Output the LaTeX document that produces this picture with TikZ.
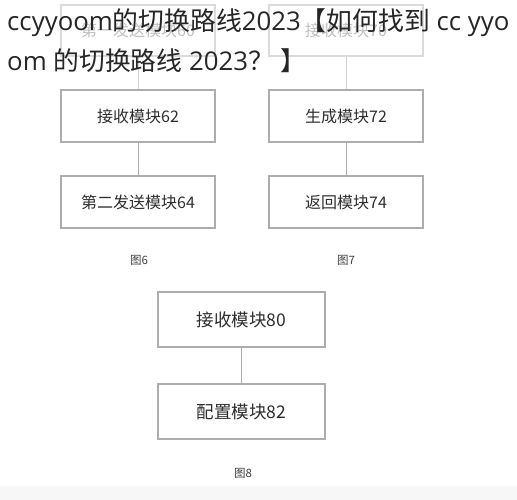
\documentclass[tikz,border=0pt]{standalone}
\usepackage{fontspec}
\newfontfamily\cjk{Noto Sans CJK SC}
\newfontfamily\osf{Open Sans}
\begin{document}
\begin{tikzpicture}[x=1pt,y=-1pt,
  box/.style={draw=black!32,line width=1.1pt,minimum width=154pt,minimum height=52pt,inner sep=0pt,text=black!82,font=\cjk\fontsize{16}{16}\selectfont},
  bigbox/.style={box,minimum width=167pt,minimum height=55pt,font=\cjk\fontsize{17.5}{17}\selectfont},
  fadebox/.style={draw=black!14,line width=1.1pt,minimum width=154pt,minimum height=51pt,inner sep=0pt,text=black!25,font=\cjk\fontsize{16}{16}\selectfont},
  link/.style={draw=black!32,line width=1pt},
  fadelink/.style={draw=black!18,line width=1pt},
  figcap/.style={text=black!75,font=\cjk\fontsize{11.5}{12}\selectfont,inner sep=0pt},
  titleline/.style={anchor=base west,inner sep=0pt,text=black!85,font=\fontsize{25.8}{30}\selectfont}]
\useasboundingbox (0,0) rectangle (517,500);
\fill[white] (0,0) rectangle (517,500);
\fill[black!3] (0,486) rectangle (517,500);
% top faded boxes
\node[fadebox] (a60) at (138,30.5) {第一发送模块60};
\node[fadebox] (a70) at (346,30.5) {接收模块70};
% figure 6
\node[box] (a62) at (138,116) {接收模块62};
\node[box] (a64) at (138,202) {第二发送模块64};
\node[figcap] (f6) at (139,260) {图6};
% figure 7
\node[box] (a72) at (346,116) {生成模块72};
\node[box] (a74) at (346,202) {返回模块74};
\node[figcap] (f7) at (346,260) {图7};
% figure 8
\node[bigbox] (a80) at (241.5,319.5) {接收模块80};
\node[bigbox] (a82) at (241.5,411.5) {配置模块82};
\node[figcap] (f8) at (243,473) {图8};
\draw[fadelink] (a60) -- (a62);
\draw[fadelink] (a70) -- (a72);
\draw[link] (a62) -- (a64);
\draw[link] (a72) -- (a74);
\draw[link] (a80) -- (a82);
% overlay title
\node[titleline] (title1) at (7,30.5) {{\osf ccyyoom}{\cjk 的切换路线}{\osf 2023}{\cjk 【如何找到}{\osf\ cc yyo}};
\node[titleline] (title2) at (7,70.5) {{\osf om }{\cjk 的切换路线}{\osf\ 2023}{\cjk ？}{\osf\ }{\cjk 】}};
\end{tikzpicture}
\end{document}
